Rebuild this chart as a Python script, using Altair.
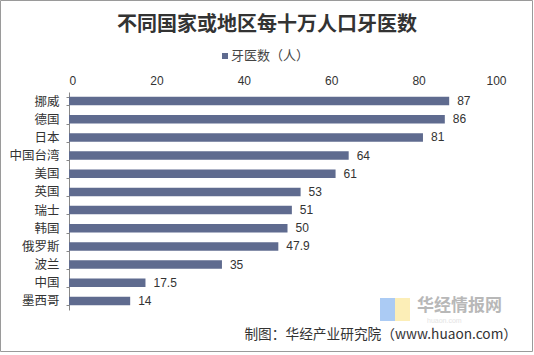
import altair as alt
import pandas as pd

categories = ["挪威", "德国", "日本", "中国台湾", "美国", "英国", "瑞士", "韩国", "俄罗斯", "波兰", "中国", "墨西哥"]
values = [87, 86, 81, 64, 61, 53, 51, 50, 47.9, 35, 17.5, 14]
value_labels = ["87", "86", "81", "64", "61", "53", "51", "50", "47.9", "35", "17.5", "14"]
x_ticks = [0, 20, 40, 60, 80, 100]
title_text = "不同国家或地区每十万人口牙医数"
legend_text = "牙医数（人）"
footer_text = "制图：华经产业研究院（www.huaon.com）"
watermark_text = "华经情报网"
watermark_sub = "huaon.com"

BAR = "#5F6B8F"
TXT = "#333333"
W, H = 437, 218

df = pd.DataFrame({"cat": categories, "val": values, "lab": value_labels})

x_enc = alt.X("val:Q", scale=alt.Scale(domain=[0, 100], nice=False),
              axis=alt.Axis(orient="top", values=x_ticks, grid=False, domain=False, ticks=False,
                            labelPadding=5, labelFontSize=12, labelColor=TXT, labelFont="Liberation Sans",
                            title=None))
y_enc = alt.Y("cat:N", sort=categories,
              scale=alt.Scale(paddingInner=0.53, paddingOuter=0.265),
              axis=alt.Axis(title=None, tickBand="extent", tickSize=3, tickColor="#888888",
                            domainColor="#888888", labelPadding=7, labelFontSize=12.5,
                            labelColor=TXT, labelFont="Noto Sans CJK SC"))

bars = alt.Chart(df).mark_bar(color=BAR).encode(x=x_enc, y=y_enc)
labels = alt.Chart(df).mark_text(align="left", dx=8, fontSize=12, color=TXT,
                                 font="Liberation Sans").encode(
    x="val:Q", y=alt.Y("cat:N", sort=categories), text="lab:N")

one = pd.DataFrame({"t": [title_text], "l": [legend_text], "f": [footer_text],
                    "w": [watermark_text], "s": [watermark_sub]})
base = alt.Chart(one)

title = base.mark_text(fontSize=20, fontWeight="bold", color=TXT, font="Noto Sans CJK SC",
                       align="center", baseline="middle").encode(
    x=alt.value(198), y=alt.value(-67), text="t:N")
leg_sq = base.mark_square(size=36, color=BAR, opacity=1).encode(
    x=alt.value(156), y=alt.value(-36))
leg_tx = base.mark_text(fontSize=13, color="#444444", font="Noto Sans CJK SC",
                        align="left", baseline="middle").encode(
    x=alt.value(162), y=alt.value(-36), text="l:N")
footer = base.mark_text(fontSize=13.7, color=TXT, font="Noto Sans CJK SC",
                        align="right", baseline="middle").encode(
    x=alt.value(448), y=alt.value(242.5), text="f:N")
wm_blue = base.mark_rect(color="#9CC2F2", opacity=0.85).encode(
    x=alt.value(311), x2=alt.value(326), y=alt.value(206), y2=alt.value(229))
wm_yel = base.mark_rect(color="#FBEBAA", opacity=0.85).encode(
    x=alt.value(326), x2=alt.value(341), y=alt.value(206), y2=alt.value(229))
wm_tx = base.mark_text(fontSize=17, fontWeight="bold", color="#B8B8B8", font="Noto Sans CJK SC",
                       align="left", baseline="middle").encode(
    x=alt.value(348), y=alt.value(214), text="w:N")
wm_sub = base.mark_text(fontSize=7, color="#E4E4E4", font="Liberation Sans",
                        align="left", baseline="middle").encode(
    x=alt.value(358), y=alt.value(228.5), text="s:N")
border = base.mark_rect(fill=None, stroke="#9A9A9A", strokeWidth=1).encode(
    x=alt.value(-68.5), x2=alt.value(463.5), y=alt.value(-91.5), y2=alt.value(259.5))

chart = alt.layer(bars, labels, wm_blue, wm_yel, wm_tx, wm_sub, title, leg_sq, leg_tx, footer, border).properties(
    width=W, height=H,
    autosize=alt.AutoSizeParams(type="none"),
    padding={"left": 69, "top": 92, "right": 28, "bottom": 45},
    background="white",
).configure_view(stroke=None)

chart.save("out.html", embed_options={"renderer": "svg", "actions": False})
